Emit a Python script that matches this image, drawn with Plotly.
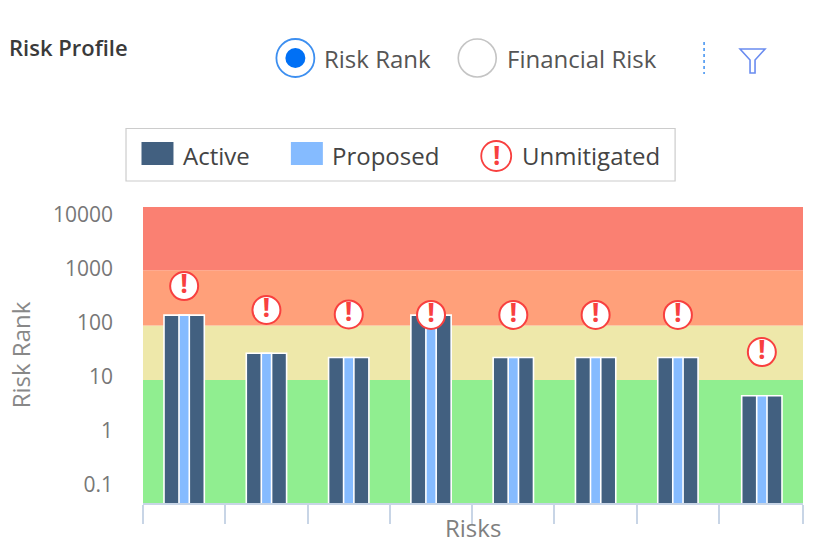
import plotly.graph_objects as go

W, H = 819, 558
L, R, T, B = 142.5, 803, 207, 503

risks = [0, 1, 2, 3, 4, 5, 6, 7.02]
active = [140, 27.5, 23, 140, 23, 23, 23, 4.5]
proposed = [140, 27.5, 23, 140, 23, 23, 23, 4.5]
unmitigated = [484, 174, 144, 141, 141, 141, 141, 29]
band_edges = [0.0464, 8.8, 90, 950, 14000]
band_colors = ["#90EE90", "#EEE8AA", "#FFA07A", "#FA8072"]
y_ticks = [0.1, 1, 10, 100, 1000, 10000]
y_labels = ["0.1", "1", "10", "100", "1000", "10000"]
x_edges = [-0.5, 0.5, 1.5, 2.5, 3.5, 4.5, 5.5, 6.5, 7.52]

DARK, LIGHT, RED = "#426080", "#85BBFF", "#F8403F"
FONT = "Open Sans"


def px(x):
    return (x - L) / (R - L)


def py(y):
    return (B - y) / (B - T)


def circle(cx, cy, r, **kw):
    return dict(type="circle", xref="paper", yref="paper", x0=px(cx - r), x1=px(cx + r),
                y0=py(cy + r), y1=py(cy - r), **kw)


def rect(x0, y0, x1, y1, **kw):
    return dict(type="rect", xref="paper", yref="paper", x0=px(x0), x1=px(x1),
                y0=py(y1), y1=py(y0), **kw)


def label(x, y, text, size, color, anchor="left", weight="normal"):
    return dict(xref="paper", yref="paper", x=px(x), y=py(y), text=text, showarrow=False,
                xanchor=anchor, yanchor="middle",
                font=dict(family=FONT, size=size, color=color, weight=weight))


fig = go.Figure()
fig.add_bar(name="Active", x=risks, y=active, width=0.49, marker=dict(color=DARK, line=dict(color="white", width=1.6)))
fig.add_bar(name="Proposed", x=risks, y=proposed, width=0.125, marker=dict(color=LIGHT, line=dict(color="white", width=1.6)))
fig.add_scatter(name="Unmitigated", x=risks, y=unmitigated, mode="markers+text", text=["!"] * 8,
                textposition="middle center", textfont=dict(family=FONT, size=27, color=RED, weight="bold"),
                marker=dict(size=28, color="white", line=dict(color=RED, width=2)))

shapes = []
for i, c in enumerate(band_colors):
    shapes.append(dict(type="rect", xref="paper", yref="y", x0=0, x1=1, y0=band_edges[i],
                       y1=band_edges[i + 1], fillcolor=c, line=dict(width=0), layer="below"))

# legend box
shapes.append(rect(125.5, 128.5, 675, 181, fillcolor="white", line=dict(color="#CCCCCC", width=1.2)))
shapes.append(rect(141, 142, 173, 165, fillcolor=DARK, line=dict(width=0)))
shapes.append(rect(290.5, 142, 322.5, 165, fillcolor=LIGHT, line=dict(width=0)))
shapes.append(circle(496, 156, 15, fillcolor="white", line=dict(color=RED, width=1.8)))
# radios
shapes.append(circle(295, 58, 19, fillcolor="white", line=dict(color="#3D8FF0", width=1.8)))
shapes.append(circle(295, 58, 10, fillcolor="#0070F5", line=dict(width=0)))
shapes.append(circle(477, 58, 19, fillcolor="white", line=dict(color="#C4C4C4", width=1.6)))
# divider and funnel
shapes.append(dict(type="line", xref="paper", yref="paper", x0=px(704), x1=px(704), y0=py(42), y1=py(74),
                   line=dict(color="#3D8FF0", width=1.5, dash="dot")))
fx = [740, 765, 755, 755, 750, 750]
fy = [49, 49, 60, 73, 73, 60]
path = "M" + " L".join(f"{px(a):.5f},{py(b):.5f}" for a, b in zip(fx, fy)) + " Z"
shapes.append(dict(type="path", xref="paper", yref="paper", path=path, fillcolor="white",
                   line=dict(color="#6A8CF0", width=1.6)))

annotations = [
    label(6, 47, "Risk Profile", 22, "#3A3A3A", weight=600),
    label(322, 58, "Risk Rank", 24, "#555555"),
    label(505, 58, "Financial Risk", 24, "#555555"),
    label(181, 155, "Active", 24, "#444444"),
    label(330, 155, "Proposed", 24, "#444444"),
    label(520, 155, "Unmitigated", 24, "#444444"),
    label(496, 155, "!", 26, RED, anchor="center", weight="bold"),
    label(473, 527, "Risks", 24, "#808080", anchor="center"),
]

fig.update_layout(
    width=W, height=H, autosize=False, barmode="overlay", showlegend=False,
    margin=dict(l=L, r=W - R, t=T, b=H - B, pad=0),
    paper_bgcolor="white", plot_bgcolor="white", shapes=shapes, annotations=annotations,
    font=dict(family=FONT, color="#777777"),
    xaxis=dict(range=[-0.5, 7.52], tickmode="array", tickvals=x_edges, ticktext=[""] * len(x_edges),
               ticks="outside", ticklen=19, tickcolor="#C8D5E6", tickwidth=1.5, showline=True,
               linecolor="#C8D5E6", linewidth=1.5, showgrid=False, zeroline=False, automargin=False),
    yaxis=dict(type="log", range=[-1.3333, 4.1481], tickmode="array", tickvals=y_ticks, ticktext=y_labels,
               ticks="", ticklabelstandoff=29, showgrid=False, zeroline=False, showline=False, automargin=False,
               tickfont=dict(size=21, color="#777777"),
               title=dict(text="Risk Rank", font=dict(size=24, color="#888888"), standoff=15)),
)
fig.update_traces(cliponaxis=False)
fig.write_html("out.html", post_script="document.body.style.margin='0';",
               config=dict(displayModeBar=False))
